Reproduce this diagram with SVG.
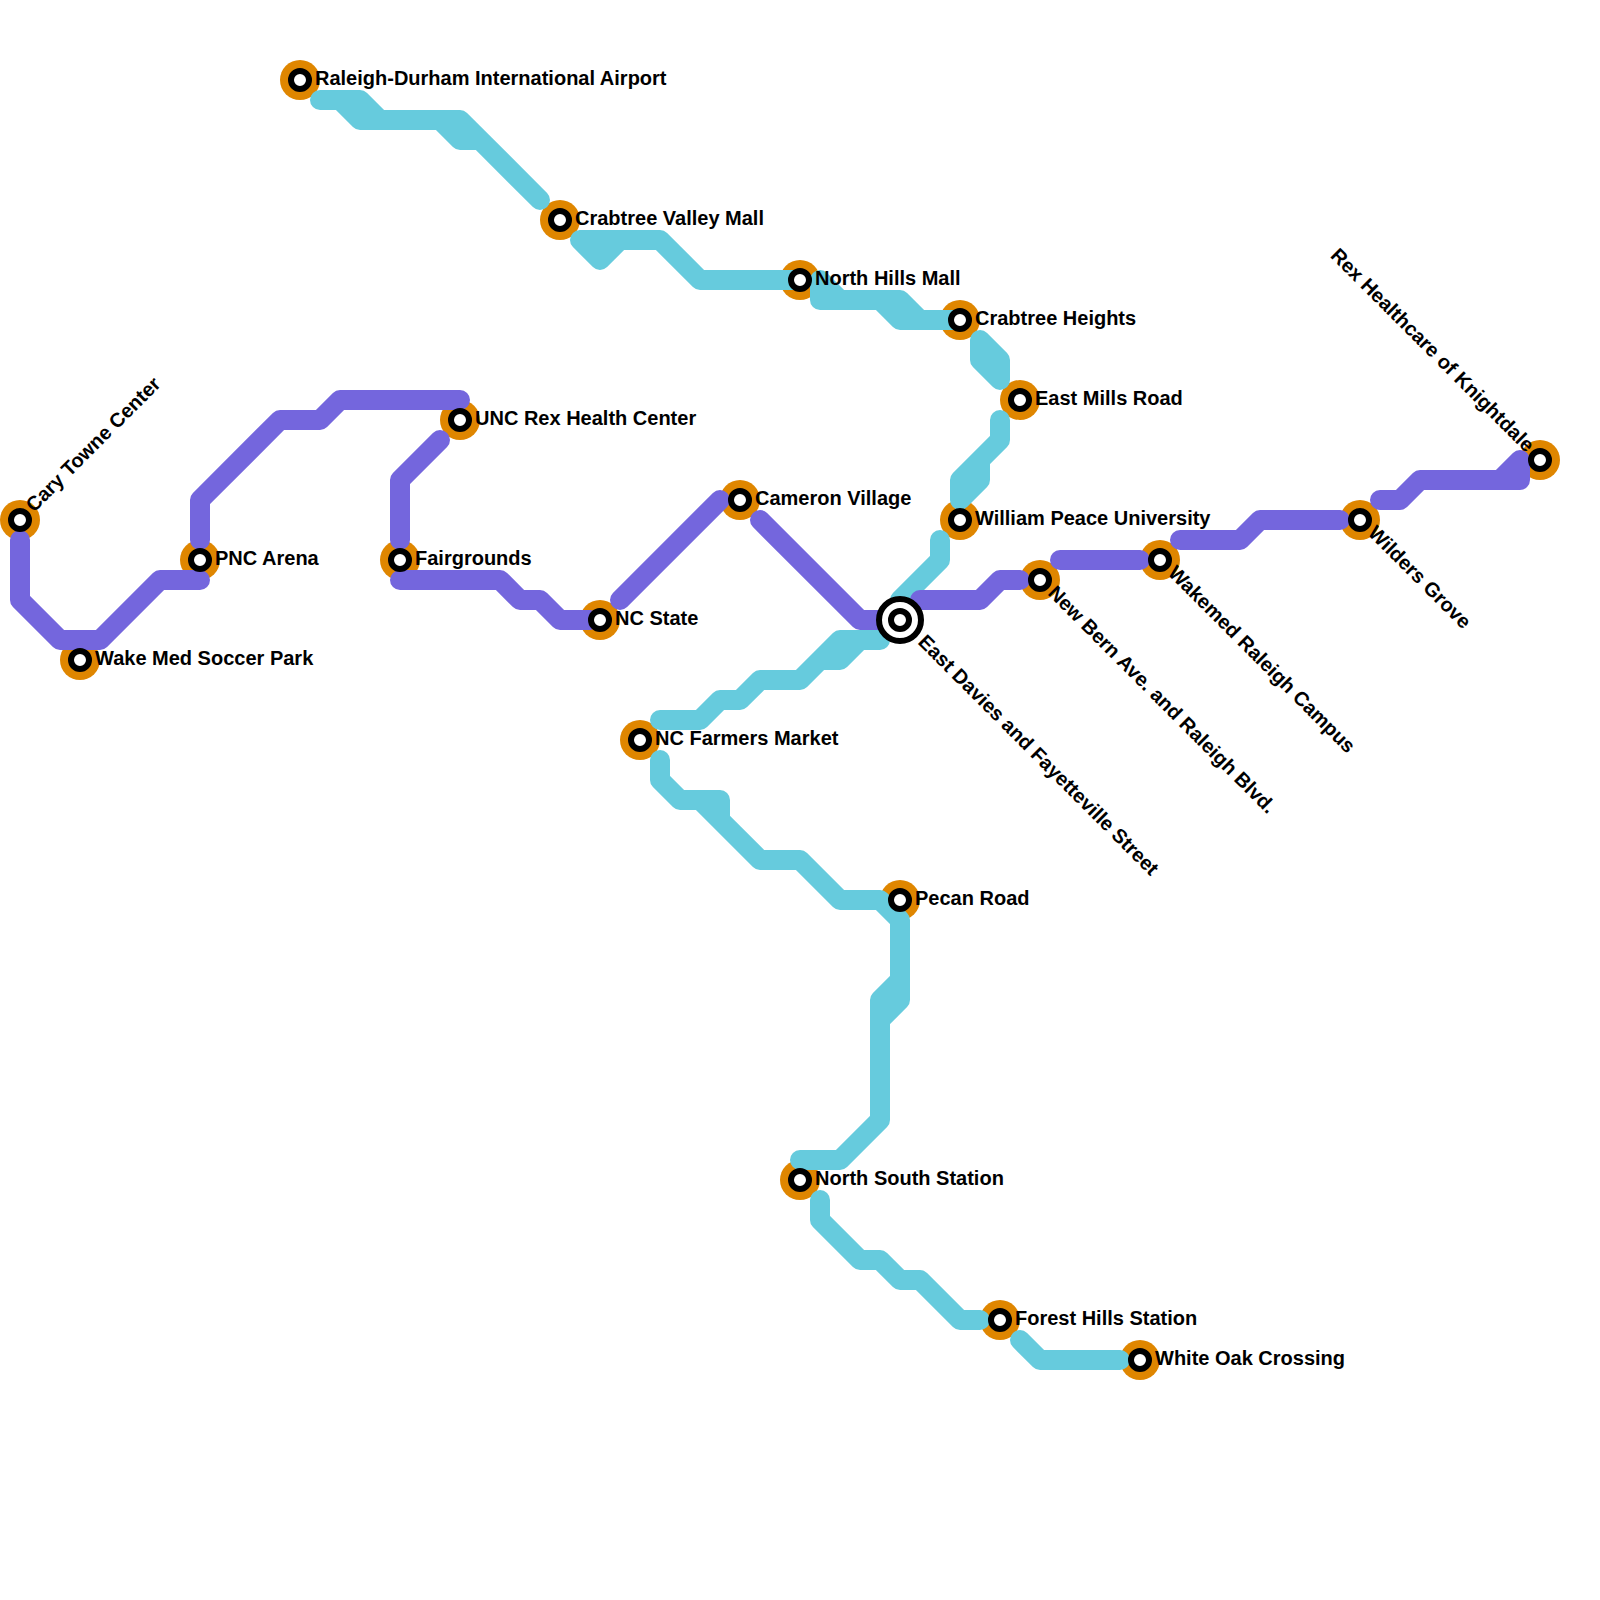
<svg xmlns="http://www.w3.org/2000/svg" width="1600" height="1600" viewBox="0 0 1600 1600">
<style>
.halo{fill:#df8600}
.ln{fill:none;stroke-width:20;stroke-linecap:round;stroke-linejoin:round}
.p{stroke:#7466dd}
.c{stroke:#66cbdd}
.st{fill:#fff;stroke:#000;stroke-width:6}
.lb{font-family:"Liberation Sans",Arial,sans-serif;font-weight:bold;font-size:20px;fill:#000}
</style>
<rect width="1600" height="1600" fill="#fff"/>
<g id="halos">
<circle class="halo" cx="20" cy="520" r="20"/><circle class="halo" cx="80" cy="660" r="20"/><circle class="halo" cx="200" cy="560" r="20"/><circle class="halo" cx="400" cy="560" r="20"/><circle class="halo" cx="460" cy="420" r="20"/><circle class="halo" cx="600" cy="620" r="20"/><circle class="halo" cx="740" cy="500" r="20"/><circle class="halo" cx="300" cy="80" r="20"/><circle class="halo" cx="560" cy="220" r="20"/><circle class="halo" cx="800" cy="280" r="20"/><circle class="halo" cx="960" cy="320" r="20"/><circle class="halo" cx="1020" cy="400" r="20"/><circle class="halo" cx="960" cy="520" r="20"/><circle class="halo" cx="640" cy="740" r="20"/><circle class="halo" cx="900" cy="900" r="20"/><circle class="halo" cx="800" cy="1180" r="20"/><circle class="halo" cx="1000" cy="1320" r="20"/><circle class="halo" cx="1140" cy="1360" r="20"/><circle class="halo" cx="1040" cy="580" r="20"/><circle class="halo" cx="1160" cy="560" r="20"/><circle class="halo" cx="1360" cy="520" r="20"/><circle class="halo" cx="1540" cy="460" r="20"/>
</g>
<g id="connectors">
<path class="ln c" d="M320,100H360L380,120H460L540,200M340,100L360,120H440L460,140H480L540,200"/>
<path class="ln c" d="M580,240L600,260L620,240H660L700,280H800M580,240H620"/>
<path class="ln c" d="M820,280L840,300H900L920,320H960M820,280V300H880L900,320H960"/>
<path class="ln c" d="M980,340L1000,360V380M980,340V360L1000,380"/>
<path class="ln c" d="M1000,420V440L960,480V500M1000,440L980,460V480L960,500"/>
<path class="ln c" d="M940,540V560L900,600"/>
<path class="ln c" d="M880,640H840L800,680H760L740,700H720L700,720H660M880,640H860L840,660H820L800,680"/>
<path class="ln c" d="M660,760V780L680,800H720V820L760,860H800L840,900H880L900,920V1000L880,1020V1120L840,1160H800M700,800L760,860M900,980L880,1000V1020"/>
<path class="ln c" d="M820,1200V1220L860,1260H880L900,1280H920L960,1320H980"/>
<path class="ln c" d="M1020,1340L1040,1360H1120"/>
<path class="ln p" d="M20,540V600L60,640H100L160,580H200"/>
<path class="ln p" d="M200,540V500L280,420H320L340,400H460"/>
<path class="ln p" d="M440,440L400,480V540"/>
<path class="ln p" d="M400,580H500L520,600H540L560,620H590"/>
<path class="ln p" d="M620,600L720,500"/>
<path class="ln p" d="M760,520L860,620H880"/>
<path class="ln p" d="M920,600H980L1000,580H1020"/>
<path class="ln p" d="M1060,560H1140"/>
<path class="ln p" d="M1180,540H1240L1260,520H1340"/>
<path class="ln p" d="M1380,500H1400L1420,480H1520V460L1500,480"/>
</g>
<g id="n-cary"><circle class="st" cx="20" cy="520" r="9"/><text class="lb" transform="translate(34,513) rotate(-45)">Cary Towne Center</text></g>
<g id="n-wake"><circle class="st" cx="80" cy="660" r="9"/><text class="lb" x="95" y="665">Wake Med Soccer Park</text></g>
<g id="n-pnc"><circle class="st" cx="200" cy="560" r="9"/><text class="lb" x="215" y="565">PNC Arena</text></g>
<g id="n-fair"><circle class="st" cx="400" cy="560" r="9"/><text class="lb" x="415" y="565">Fairgrounds</text></g>
<g id="n-unc"><circle class="st" cx="460" cy="420" r="9"/><text class="lb" x="475" y="425">UNC Rex Health Center</text></g>
<g id="n-ncstate"><circle class="st" cx="600" cy="620" r="9"/><text class="lb" x="615" y="625">NC State</text></g>
<g id="n-cameron"><circle class="st" cx="740" cy="500" r="9"/><text class="lb" x="755" y="505">Cameron Village</text></g>
<g id="n-rdu"><circle class="st" cx="300" cy="80" r="9"/><text class="lb" x="315" y="85">Raleigh-Durham International Airport</text></g>
<g id="n-crabtree"><circle class="st" cx="560" cy="220" r="9"/><text class="lb" x="575" y="225">Crabtree Valley Mall</text></g>
<g id="n-northhills"><circle class="st" cx="800" cy="280" r="9"/><text class="lb" x="815" y="285">North Hills Mall</text></g>
<g id="n-heights"><circle class="st" cx="960" cy="320" r="9"/><text class="lb" x="975" y="325">Crabtree Heights</text></g>
<g id="n-eastmills"><circle class="st" cx="1020" cy="400" r="9"/><text class="lb" x="1035" y="405">East Mills Road</text></g>
<g id="n-peace"><circle class="st" cx="960" cy="520" r="9"/><text class="lb" x="975" y="525">William Peace University</text></g>
<g id="n-davies"><circle cx="900" cy="620" r="21" fill="#fff" stroke="#000" stroke-width="6"/><circle class="st" cx="900" cy="620" r="9"/><text class="lb" transform="translate(917,643) rotate(45)">East Davies and Fayetteville Street</text></g>
<g id="n-farmers"><circle class="st" cx="640" cy="740" r="9"/><text class="lb" x="655" y="745">NC Farmers Market</text></g>
<g id="n-pecan"><circle class="st" cx="900" cy="900" r="9"/><text class="lb" x="915" y="905">Pecan Road</text></g>
<g id="n-ns"><circle class="st" cx="800" cy="1180" r="9"/><text class="lb" x="815" y="1185">North South Station</text></g>
<g id="n-forest"><circle class="st" cx="1000" cy="1320" r="9"/><text class="lb" x="1015" y="1325">Forest Hills Station</text></g>
<g id="n-whiteoak"><circle class="st" cx="1140" cy="1360" r="9"/><text class="lb" x="1155" y="1365">White Oak Crossing</text></g>
<g id="n-newbern"><circle class="st" cx="1040" cy="580" r="9"/><text class="lb" transform="translate(1047,594) rotate(45)">New Bern Ave. and Raleigh Blvd.</text></g>
<g id="n-wakemed"><circle class="st" cx="1160" cy="560" r="9"/><text class="lb" transform="translate(1167,574) rotate(45)">Wakemed Raleigh Campus</text></g>
<g id="n-wilders"><circle class="st" cx="1360" cy="520" r="9"/><text class="lb" transform="translate(1367,534) rotate(45)">Wilders Grove</text></g>
<g id="n-rex"><circle class="st" cx="1540" cy="460" r="9"/><text class="lb" text-anchor="end" transform="translate(1526,453) rotate(45)">Rex Healthcare of Knightdale</text></g>
</svg>
